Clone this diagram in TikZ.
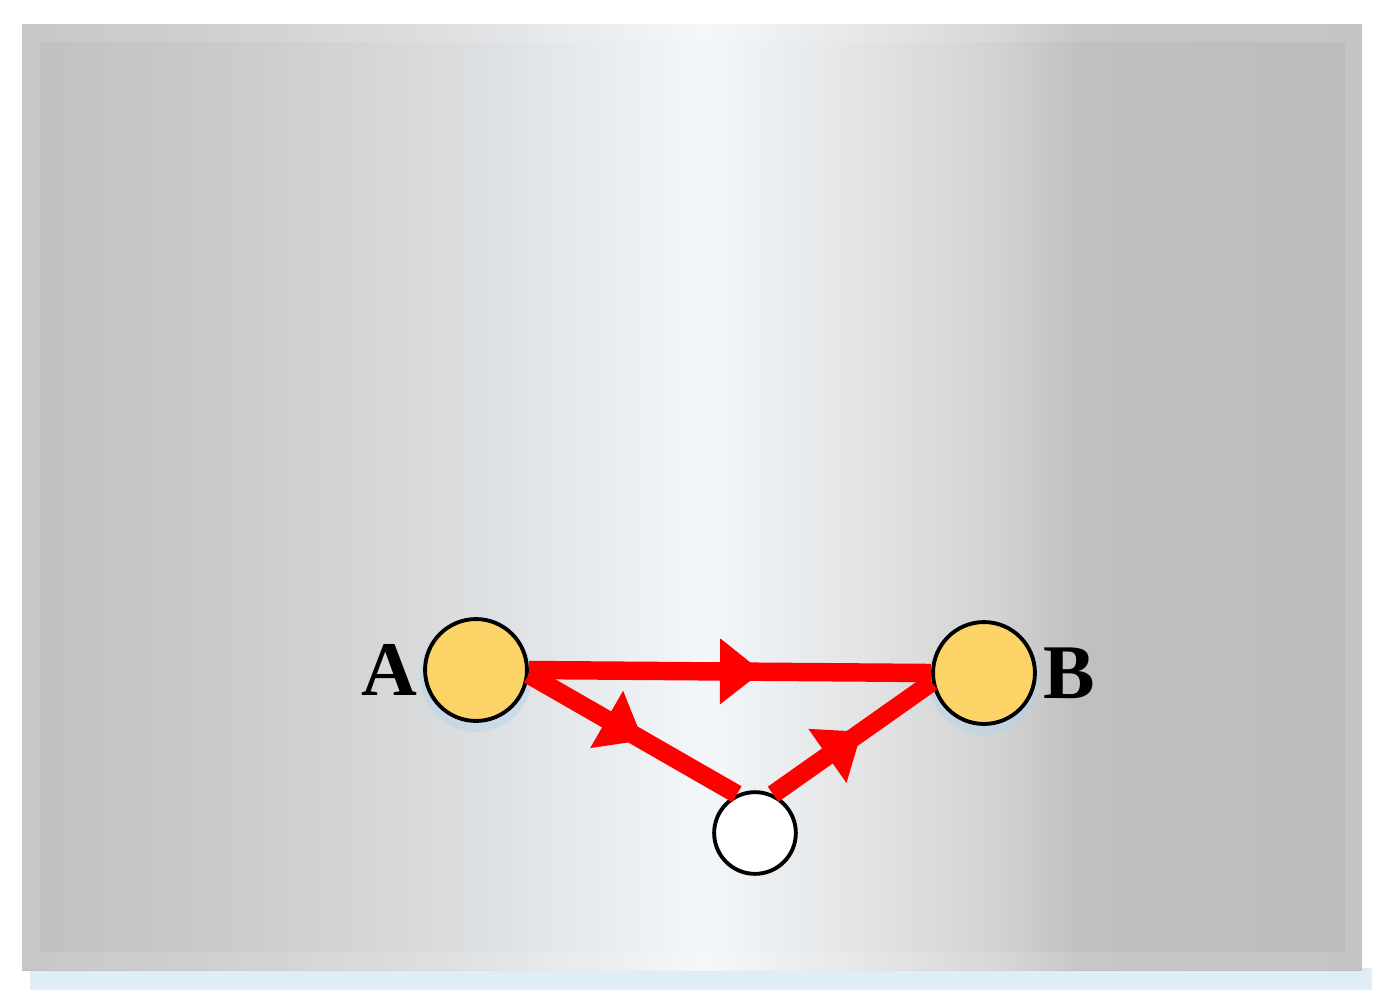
\documentclass[tikz,border=0pt]{standalone}
\usepackage{fontspec}
\setmainfont{Liberation Serif}
\usetikzlibrary{positioning, decorations.markings, arrows.meta}
\definecolor{nodeyellow}{RGB}{252,211,102}
\definecolor{linkred}{RGB}{255,0,0}
\definecolor{glowblue}{RGB}{178,212,236}
\definecolor{shadowblue}{RGB}{222,237,246}
\definecolor{pa}{RGB}{192,192,192}
\definecolor{pb}{RGB}{201,203,204}
\definecolor{pc}{RGB}{218,220,222}
\definecolor{pd}{RGB}{243,247,250}
\definecolor{pe}{RGB}{222,223,224}
\definecolor{pf}{RGB}{210,210,210}
\definecolor{pg}{RGB}{192,192,192}
\definecolor{ph}{RGB}{188,188,188}
\pgfdeclarehorizontalshading{panel}{100bp}{color(0bp)=(pa); color(25bp)=(pa);
  color(32.8bp)=(pb); color(41bp)=(pc); color(50.5bp)=(pd); color(57.8bp)=(pe);
  color(61.5bp)=(pf); color(64.5bp)=(pg); color(75bp)=(ph); color(100bp)=(ph)}
\tikzset{
  font=\fontsize{44}{48}\selectfont\bfseries,
  % Set arrowhead
  >={Triangle[length=24pt, width=36pt]},
  % Arrows with arrowhead in the middle
  ->-/.style={decoration={
      markings, mark=at position #1 with
      {\arrow{>}}},postaction={decorate}},
  % General node
  site/.style={draw, line width=2.2pt, shape=circle, inner sep=0pt},
  % End node
  enode/.style={site, fill=nodeyellow, minimum size=58pt},
  % Relay node
  rnode/.style={site, fill=white, minimum size=46.5pt},
  % Links
  link/.style={draw=linkred, line width=10.5pt},
  % Labels
  lbl/.style={inner sep=0pt},
}
\begin{document}
\begin{tikzpicture}[x=0.02cm, y=-0.02cm]
  \useasboundingbox (0,0) rectangle (1384,995);

  % panel
  \fill[shadowblue] (30,968) rectangle (1372,990);
  \shade[shading=panel] (22,24) rectangle (1362,970);
  \fill[white, opacity=0.12, even odd rule]
    (22,24) rectangle (1362,970) (40,42) rectangle (1345,952);

  % glow
  \fill[glowblue, opacity=0.45] (476,676) circle (56);
  \fill[glowblue, opacity=0.45] (984,679) circle (56);

  \node[enode] (A) at (476,670) {};
  \node[enode] (B) at (984,673) {};
  \node[rnode] (C) at (755,833) {};

  \node[lbl, left=3pt of A] (lA) {A};
  \node[lbl, right=3.5pt of B] (lB) {B};

  \draw[link, ->-=0.58] (A.east) -- (B.west);
  \draw[link, ->-=0.55] (A.-5) -- (C.115);
  \draw[link, ->-=0.56] (C.65) -- (B.190);
\end{tikzpicture}
\end{document}
